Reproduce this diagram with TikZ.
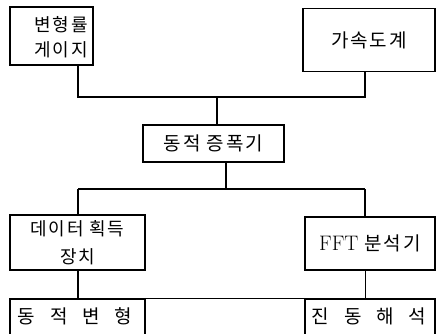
\documentclass[tikz,border=0pt]{standalone}
\usepackage{fontspec}
\newfontfamily\kr{Noto Sans CJK KR}
\newfontfamily\krs{Noto Sans CJK KR}[LetterSpace=10]
\begin{document}
\begin{tikzpicture}[x=1pt,y=-1pt,
  box/.style={draw,line width=1.8pt,inner sep=0pt,align=center,font=\krs\fontsize{19}{26}\selectfont},
  txt/.style={inner sep=0pt,align=center},
  thick line/.style={line width=1.8pt},
  thin line/.style={line width=0.9pt}]
\clip (0,0) rectangle (440,333);
\fill[white] (0,0) rectangle (440,333);
\node[box,minimum width=83pt,minimum height=58pt] (g) at (51.5,36) {};
\node[txt,font=\krs\fontsize{18}{25}\selectfont] (gt) at (61,37) {변형률\\게이지};
\node[box,minimum width=132pt,minimum height=63pt] (a) at (369,40) {가속도계};
\node[box,minimum width=141pt,minimum height=37pt] (amp) at (213.5,143.5) {동적 증폭기};
\node[box,minimum width=135pt,minimum height=55pt,font=\krs\fontsize{18}{28}\selectfont] (daq) at (77.5,242.5) {데이터 획득\\장치};
\node[box,minimum width=130pt,minimum height=53pt] (fft) at (370,243.5) {{\rmfamily\fontsize{21}{26}\selectfont FFT} 분석기};
\node[box,minimum width=135pt,minimum height=50pt,anchor=north] (dyn) at (77.5,298) {};
\node[box,minimum width=130pt,minimum height=50pt,anchor=north] (vib) at (370,298) {};
\node[txt,font=\kr\fontsize{19}{20}\selectfont] (dynt) at (75,316) {동\hspace{15pt}적\hspace{15pt}변\hspace{15pt}형};
\node[txt,font=\kr\fontsize{19}{20}\selectfont] (vibt) at (369,316) {진\hspace{15pt}동\hspace{15pt}해\hspace{15pt}석};
\coordinate (L) at (78,0);
\coordinate (R) at (365,0);
\coordinate (jt) at (217,97);
\coordinate (jb) at (226,189);
\draw[thick line] (g.south -| L) -- (L |- jt) -- (R |- jt) -- (a.south -| R);
\draw[thick line] (jt) -- (amp.north -| jt);
\draw[thick line] (amp.south -| jb) -- (jb);
\draw[thick line] (L |- jb) -- (R |- jb);
\draw[thick line] (L |- jb) -- (daq.north -| L);
\draw[thick line] (R |- jb) -- (fft.north -| R);
\draw[thick line] (daq.south -| L) -- (dyn.north -| L);
\draw[thin line] (fft.south -| R) -- (vib.north -| R);
\draw[thin line] (dyn.north east) -- (vib.north west);
\end{tikzpicture}
\end{document}
